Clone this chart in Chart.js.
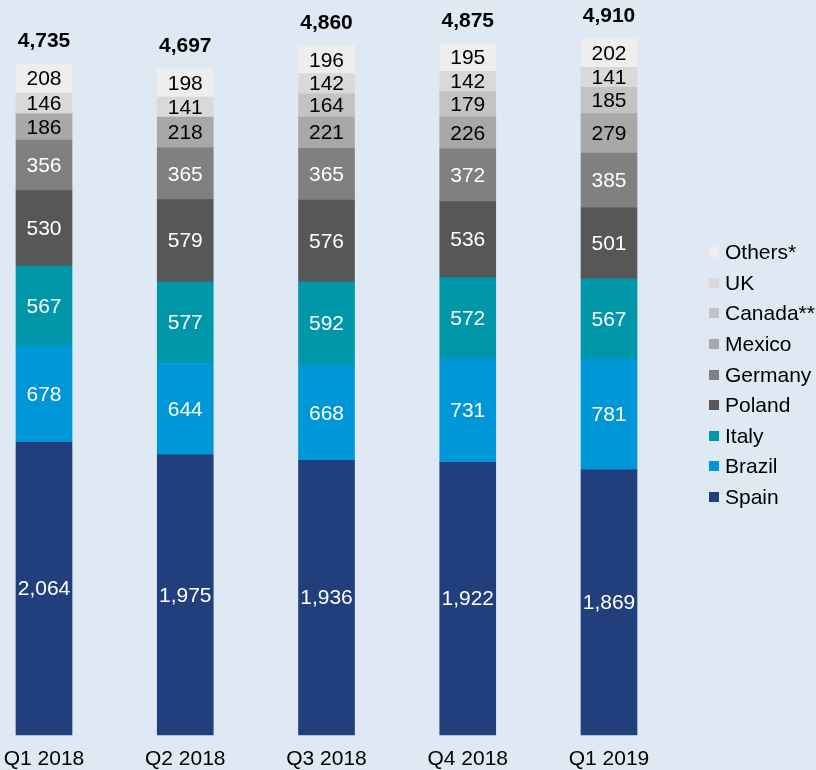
<!DOCTYPE html>
<html>
<head>
<meta charset="utf-8">
<script src="https://cdn.jsdelivr.net/npm/chart.js@4/dist/chart.umd.min.js"></script>
<style>
  html, body { margin: 0; padding: 0; background: #dfe9f4; }
  #wrap { position: relative; width: 816px; height: 770px; }
  #legend { position: absolute; left: 709px; top: 237px; font: 21px "Liberation Sans", Arial, sans-serif; color: #000; }
  .lg-row { height: 30.6px; display: flex; align-items: center; white-space: nowrap; }
  .lg-box { width: 10px; height: 10px; margin-right: 6px; flex: none; }
</style>
</head>
<body>
<div id="wrap">
  <canvas id="chart" width="816" height="770"></canvas>
  <div id="legend"></div>
</div>
<script>
/* Stacked bars by quarter, one series per country (bottom to top) */

const QUARTERS = ['Q1 2018', 'Q2 2018', 'Q3 2018', 'Q4 2018', 'Q1 2019'];

const SPAIN   = [2064, 1975, 1936, 1922, 1869];
const BRAZIL  = [678, 644, 668, 731, 781];
const ITALY   = [567, 577, 592, 572, 567];
const POLAND  = [530, 579, 576, 536, 501];
const GERMANY = [356, 365, 365, 372, 385];
const MEXICO  = [186, 218, 221, 226, 279];
const CANADA  = [null, null, 164, 179, 185];
const UK      = [146, 141, 142, 142, 141];
const OTHERS  = [208, 198, 196, 195, 202];

const TOTALS = [4735, 4697, 4860, 4875, 4910];

const SERIES = [
  { name: 'Spain',    data: SPAIN,   color: '#213f7c', text: '#fff' },
  { name: 'Brazil',   data: BRAZIL,  color: '#0097d9', text: '#fff' },
  { name: 'Italy',    data: ITALY,   color: '#0097ab', text: '#fff' },
  { name: 'Poland',   data: POLAND,  color: '#575757', text: '#fff' },
  { name: 'Germany',  data: GERMANY, color: '#808080', text: '#fff' },
  { name: 'Mexico',   data: MEXICO,  color: '#a8a8a8', text: '#000' },
  { name: 'Canada**', data: CANADA,  color: '#c3c3c3', text: '#000' },
  { name: 'UK',       data: UK,      color: '#d9d9d9', text: '#000' },
  { name: 'Others*',  data: OTHERS,  color: '#eeeeee', text: '#000' },
];

const FONT = '"Liberation Sans", Arial, sans-serif';
const fmt = (v) => v.toLocaleString('en-US');

// values inside each segment + bold totals on top
const labelPlugin = {
  id: 'segLabels',
  afterDatasetsDraw(chart) {
    const ctx = chart.ctx;
    ctx.save();
    ctx.textAlign = 'center';
    ctx.textBaseline = 'middle';
    ctx.font = `21px ${FONT}`;
    chart.data.datasets.forEach((ds, di) => {
      const meta = chart.getDatasetMeta(di);
      meta.data.forEach((bar, i) => {
        const v = ds.data[i];
        if (v === null || v === undefined) return;
        ctx.fillStyle = SERIES[di].text;
        ctx.fillText(fmt(v), bar.x, (bar.y + bar.base) / 2 + 1);
      });
    });
    const top = chart.getDatasetMeta(chart.data.datasets.length - 1);
    ctx.font = `bold 21px ${FONT}`;
    ctx.fillStyle = '#000';
    ctx.textBaseline = 'alphabetic';
    top.data.forEach((bar, i) => {
      ctx.fillText(fmt(TOTALS[i]), bar.x, chart.scales.y.getPixelForValue(TOTALS[i]) - 17);
    });
    ctx.restore();
  },
};

new Chart(document.getElementById('chart'), {
  type: 'bar',
  data: {
    labels: QUARTERS,
    datasets: SERIES.map(s => ({
      label: s.name,
      data: s.data,
      backgroundColor: s.color,
      borderWidth: 0,
      barThickness: 56,
      clip: false,
    })),
  },
  options: {
    responsive: false,
    animation: false,
    layout: { padding: { left: 44, right: 207, top: 26, bottom: -14 } },
    plugins: { legend: { display: false }, tooltip: { enabled: false } },
    scales: {
      x: {
        stacked: true,
        offset: false,
        grid: { display: false, drawTicks: false },
        border: { display: false },
        ticks: { color: '#000', font: { family: FONT, size: 21 }, padding: 12, maxRotation: 0 },
        // labels may hang past the plot edges, like the bars do
        afterFit: (scale) => { scale.paddingLeft = 0; scale.paddingRight = 0; },
      },
      y: { stacked: true, display: false, min: 0, max: 5000 },
    },
  },
  plugins: [labelPlugin],
});

// legend, top row = last series
const legend = document.getElementById('legend');
SERIES.slice().reverse().forEach(s => {
  const row = document.createElement('div');
  row.className = 'lg-row';
  row.innerHTML = `<span class="lg-box" style="background:${s.color}"></span><span>${s.name}</span>`;
  legend.appendChild(row);
});
</script>
</body>
</html>
